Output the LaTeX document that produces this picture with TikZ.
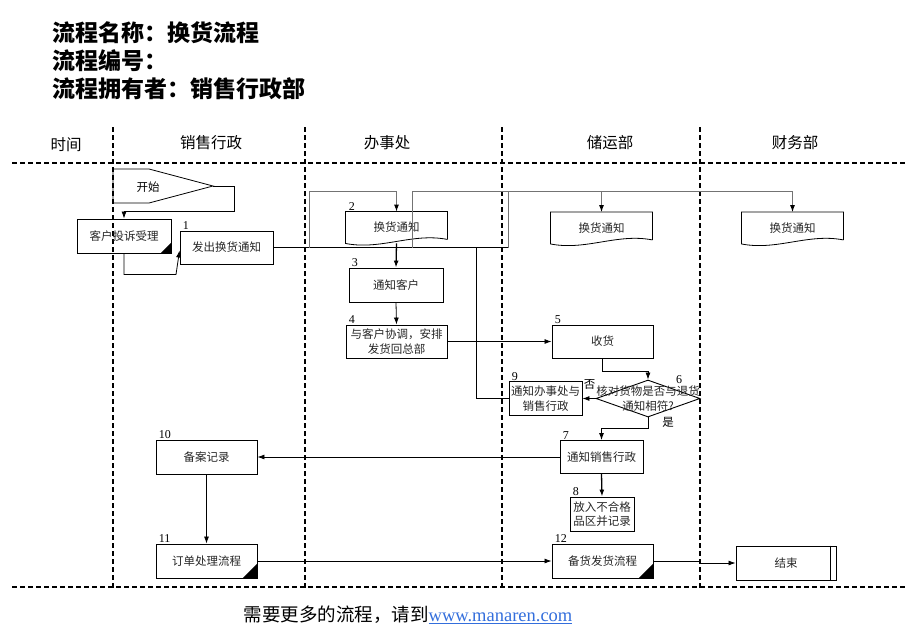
\documentclass[tikz,border=0pt]{standalone}
\usepackage{fontspec}
\setmainfont{Noto Sans CJK SC}
\newfontfamily\numfont{Liberation Serif}
\usetikzlibrary{arrows.meta,shapes.geometric}
\definecolor{linkblue}{RGB}{51,110,220}

\begin{document}
\begin{tikzpicture}[x=1pt,y=-1pt,
    box/.style={draw,line width=0.9pt,inner sep=0,minimum width=101pt,minimum height=34pt,align=center,font=\fontsize{11.5}{14.5}\selectfont,text=black!85},
    docbox/.style={box,draw=none,minimum height=31pt},
    num/.style={anchor=south west,inner sep=0.5pt,xshift=2.5pt,font=\numfont\fontsize{12}{12}\selectfont},
    lane/.style={dash pattern=on 5pt off 3pt,line width=1.1pt},
    link/.style={line width=0.8pt},
    route/.style={line width=0.9pt,draw=black!55},
    flow/.style={link,-{Latex[length=7pt,width=5pt]}},
    tip/.style={-{Latex[length=7pt,width=5pt,color=black]}},
    head/.style={font=\fontsize{15.5}{15.5}\selectfont},
    title/.style={anchor=west,inner sep=0,font=\bfseries\fontsize{23}{23}\selectfont}
  ]
    \useasboundingbox (0,0) rectangle (920,637);
    % title block
    \node[title] (tname) at (52,33) {流程名称：换货流程};
    \node[title] (tcode) at (52,61) {流程编号：};
    \node[title] (towner) at (52,89) {流程拥有者：销售行政部};
    % lanes
    \node[head] (htime) at (66,145) {时间};
    \node[head] (hsales) at (211,143) {销售行政};
    \node[head] (hoffice) at (387,143) {办事处};
    \node[head] (hstore) at (610,143) {储运部};
    \node[head] (hfin) at (795,143) {财务部};
    \foreach \x in {113,305,502,700}
        \draw[lane] (\x,127) -- (\x,588);
    \draw[lane] (12,163) -- (907,163);
    \draw[lane] (12,587) -- (907,587);

    % start
    \node[font=\fontsize{11.5}{11.5}\selectfont] (start) at (148,187) {开始};
    \coordinate (starttip) at (213,186);
    \draw[link] (113,169) -- (149,169) -- (starttip) -- (149,203) -- (113,203) -- cycle;

    % boxes
    \node[box,minimum width=94pt] (ts) at (124,236) {客户投诉受理};
    \node[box,minimum width=93pt,minimum height=33pt] (b1) at (226.5,247.5) {发出换货通知};
    \node[docbox] (d2) at (396.5,227.5) {换货通知};
    \node[docbox] (d3) at (601.5,228) {换货通知};
    \node[docbox] (d4) at (792.5,228) {换货通知};
    \node[box,minimum width=94pt] (b3) at (396,285) {通知客户};
    \node[box,minimum height=33pt] (b4) at (396.5,341.5) {与客户协调，安排\\发货回总部};
    \node[box,minimum height=33pt] (b5) at (602.5,341.5) {收货};
    \node[diamond,draw,line width=0.9pt,minimum width=104pt,minimum height=37pt,inner sep=0] (d6) at (648,398.5) {};
    \node[align=center,inner sep=0,font=\fontsize{11.5}{14.5}\selectfont,text=black!85] (d6text) at (d6.center) {核对货物是否与退货\\通知相符?};
    \node[box,minimum width=73pt] (b9) at (545.5,398.5) {通知办事处与\\销售行政};
    \node[box,minimum width=83pt,minimum height=33pt] (b7) at (601.5,457) {通知销售行政};
    \node[box,minimum width=64pt] (b8) at (602,514) {放入不合格\\品区并记录};
    \node[box] (b10) at (206.5,457) {备案记录};
    \node[box] (b11) at (206.5,561) {订单处理流程};
    \node[box] (b12) at (602.5,561) {备货发货流程};
    \node[box,minimum width=100pt] (end) at (786,563) {结束};

    \foreach \n in {d2,d3,d4}
        \draw[link] ([yshift=4pt]\n.south east) -- (\n.north east) -- (\n.north west) -- (\n.south west)
            .. controls +(35,7) and +(-35,-7) .. ([yshift=4pt]\n.south east);
    \foreach \n/\s in {ts/11,b11/15,b12/15}
        \fill (\n.south east) -- ++(-\s,0) -- ++(\s,-\s) -- cycle;
    \draw[link] ([xshift=-6pt]end.north east) -- ([xshift=-6pt]end.south east);

    \foreach \n/\t in {b1/1,d2/2,b3/3,b4/4,b5/5,b9/9,b7/7,b8/8,b10/10,b11/11,b12/12}
        \node[num] (n\t) at (\n.north west) {\t};
    \node[num] (n6) at ([xshift=25pt,yshift=-5pt]d6.north) {6};
    \node[font=\fontsize{11.5}{11.5}\selectfont] (lno) at ([xshift=-6pt,yshift=14pt]d6.west) {否};
    \node[font=\fontsize{11.5}{11.5}\selectfont] (lyes) at ([xshift=20pt,yshift=-5pt]d6.south) {是};

    % connectors
    \draw[flow] (starttip) -| ++(21,25) -| (ts.north);
    \draw[flow] (ts.south) -- ++(0,21) -- ++(52,0) -- ([yshift=-3pt]b1.west);
    \coordinate (topbus) at (508,191);
    \draw[link] (b1.east) -- (b1.east -| topbus);
    \draw[route] (b1.east -| topbus) -- (topbus);
    \draw[route,tip] (topbus) -| (d4.north);
    \draw[route,tip] (topbus -| d3.north) -- (d3.north);
    \draw[route,tip] ([xshift=36pt]b1.east) |- (d2.north |- topbus) -- (d2.north);
    \draw[route] ([xshift=139pt]b1.east) |- (topbus);
    \draw[link] ([xshift=203pt]b1.east) |- (b9.west);
    \draw[flow,line width=1.3pt] (d2.south) -- (b3.north);
    \draw[flow] (b3.south) -- (b4.north);
    \draw[flow] (b4.east) -- (b5.west);
    \draw[flow] (b5.south) -- ++(0,13) -| (d6.north);
    \draw[flow] (d6.west) -- (b9.east);
    \draw[flow] (d6.south) -- ++(0,11) -| (b7.north);
    \draw[flow] (b7.west) -- (b10.east);
    \draw[flow,line width=1.3pt] (b7.south) -- (b8.north);
    \draw[flow] (b10.south) -- (b11.north);
    \draw[flow] (b11.east) -- (b12.west);
    \draw[flow] (b12.east) -- ++(47,0) |- (end.west);

    % footer
    \node[font=\fontsize{18.5}{18.5}\selectfont] (more) at (408,615) {需要更多的流程，请到{\numfont\color{linkblue}\underline{www.manaren.com}}};
\end{tikzpicture}
\end{document}
